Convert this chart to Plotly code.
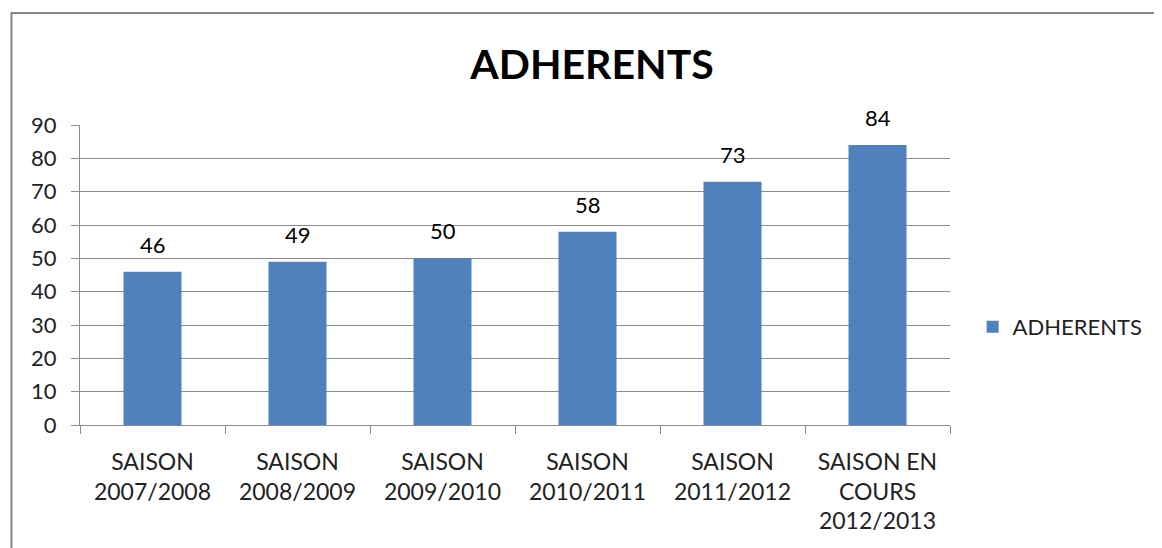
import plotly.graph_objects as go

categories = ["SAISON<br>2007/2008", "SAISON<br>2008/2009", "SAISON<br>2009/2010",
              "SAISON<br>2010/2011", "SAISON<br>2011/2012", "SAISON EN<br>COURS<br>2012/2013"]
adherents = [46, 49, 50, 58, 73, 84]
series_name = "ADHERENTS"
title_text = "ADHERENTS"

FONT = "Lato"
TXT = "#222222"
fig = go.Figure()
fig.add_trace(go.Bar(
    x=categories, y=adherents, name=series_name,
    marker=dict(color="#4F81BD", line=dict(width=0)),
    cliponaxis=False, showlegend=True,
))

for c, v in zip(categories, adherents):
    fig.add_annotation(x=c, y=v, text=str(v), showarrow=False, yanchor="bottom",
                       yshift=12, font=dict(family=FONT, size=22, color="#000000"))

fig.update_layout(
    width=1162, height=548,
    margin=dict(l=72, r=220, t=117, b=131),
    paper_bgcolor="white", plot_bgcolor="white",
    bargap=0.6,
    title=dict(text="<b>" + title_text + "</b>", x=(592 - 8) / 1162, xanchor="center",
               y=1 - 57 / 548, yanchor="middle",
               font=dict(family=FONT, size=41, color="#000000")),
    font=dict(family=FONT, size=22, color=TXT),
    legend=dict(x=1.026, y=0.327, xanchor="left", yanchor="middle",
                font=dict(family=FONT, size=22, color=TXT),
                bgcolor="rgba(0,0,0,0)"),
    showlegend=True,
)
fig.update_yaxes(range=[0, 90], dtick=10, showgrid=True, gridcolor="#8C8C8C", gridwidth=1,
                 showline=True, linecolor="#8C8C8C", linewidth=1,
                 ticks="outside", ticklen=8, tickcolor="#8C8C8C", ticklabelstandoff=10,
                 zeroline=False, tickfont=dict(family=FONT, size=22, color=TXT))
fig.update_xaxes(showline=True, linecolor="#8C8C8C", linewidth=1,
                 ticks="outside", ticklen=8, tickcolor="#8C8C8C", tickson="boundaries",
                 showgrid=False, ticklabelstandoff=16,
                 tickfont=dict(family=FONT, size=23, color=TXT))

# chart area border
fig.add_shape(type="rect", xref="paper", yref="paper",
              x0=(3.5 - 72) / 870, x1=1.4, y0=-0.6, y1=(417 - 5) / 300,
              line=dict(color="#868686", width=2), fillcolor="rgba(0,0,0,0)", layer="below")

fig.write_html("out.html")
